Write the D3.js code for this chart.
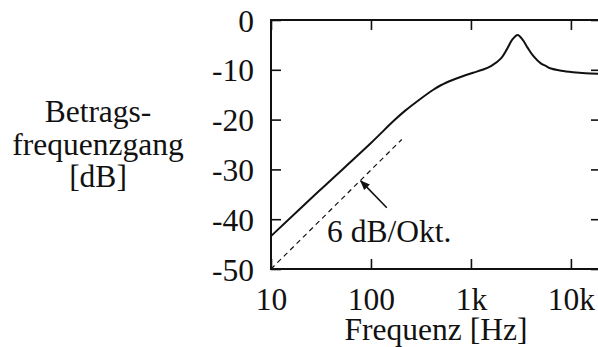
<!DOCTYPE html>
<html>
<head>
<meta charset="utf-8">
<script src="https://cdn.jsdelivr.net/npm/d3@7"></script>
<style>
  body { margin: 0; background: #fff; }
</style>
</head>
<body>
<div id="chart"></div>
<script>
// magnitude response
const freqs = [10, 30, 100, 170, 220, 300, 420, 500, 665, 800, 1050, 1300, 1600, 2000, 2300, 2600, 2930, 3300, 3700, 4200, 5000, 5700, 6200, 8000, 10500, 14000, 20000];
const gains = [-43.4, -34.4, -24.7, -20.2, -18.2, -16.1, -14.0, -13.1, -12.0, -11.4, -10.6, -10.0, -9.2, -7.7, -5.8, -3.9, -3.0, -4.0, -5.6, -7.2, -8.7, -9.3, -9.7, -10.2, -10.5, -10.7, -10.8];

// 6 dB/oct reference
const refFreqs = [10, 203];
const refGains = [-50, -24];

const xTicks = [10, 100, 1000, 10000];
const xTickLabels = ['10', '100', '1k', '10k'];
const yTicks = [0, -10, -20, -30, -40, -50];
const yLabelLines = ['Betrags-', 'frequenzgang', '[dB]'];

const width = 598, height = 347;
const margin = { top: 20, right: -3, bottom: 78, left: 271 };

const svg = d3.select('#chart')
  .append('svg')
  .attr('width', width)
  .attr('height', height);

const x = d3.scaleLog()
  .domain([10, 20000])
  .range([margin.left, width - margin.right]);

const y = d3.scaleLinear()
  .domain([-50, 0])
  .range([height - margin.bottom, margin.top]);

svg.append('defs')
  .append('marker')
  .attr('id', 'arrow')
  .attr('viewBox', '0 0 10 10')
  .attr('refX', 9)
  .attr('refY', 5)
  .attr('markerWidth', 12)
  .attr('markerHeight', 10)
  .attr('markerUnits', 'userSpaceOnUse')
  .attr('orient', 'auto')
  .append('path')
  .attr('d', 'M0,1 L10,5 L0,9 Z')
  .attr('fill', '#111');

// axes with inward ticks
const bottom = svg.append('g')
  .attr('transform', `translate(0,${y(-50)})`)
  .call(d3.axisBottom(x).tickValues(xTicks).tickSize(-10)
    .tickFormat((d, i) => xTickLabels[i]));
bottom.selectAll('text')
  .attr('y', 41).attr('dy', null);

svg.append('g')
  .attr('transform', `translate(0,${y(0)})`)
  .call(d3.axisTop(x).tickValues(xTicks).tickSize(-10).tickFormat(''));

const left = svg.append('g')
  .attr('transform', `translate(${x(10)},0)`)
  .call(d3.axisLeft(y).tickValues(yTicks).tickSize(-10)
    .tickFormat(d => d === 0 ? '0' : '-' + Math.abs(d)));
left.selectAll('text')
  .attr('x', -17).attr('dy', '0.35em');

svg.append('g')
  .attr('transform', `translate(${x(20000)},0)`)
  .call(d3.axisRight(y).tickValues(yTicks).tickSize(-10).tickFormat(''));

svg.selectAll('.domain').remove();
svg.selectAll('.tick line').attr('stroke', '#111').attr('stroke-width', 1.6);

svg.append('rect')
  .attr('x', x(10))
  .attr('y', y(0))
  .attr('width', x(20000) - x(10))
  .attr('height', y(-50) - y(0))
  .attr('fill', 'none')
  .attr('stroke', '#111')
  .attr('stroke-width', 2);

// curves
const line = d3.line()
  .x(d => x(d[0]))
  .y(d => y(d[1]))
  .curve(d3.curveCatmullRom);

svg.append('path')
  .datum(d3.zip(freqs, gains))
  .attr('d', line)
  .attr('fill', 'none')
  .attr('stroke', '#111')
  .attr('stroke-width', 2);

svg.append('path')
  .datum(d3.zip(refFreqs, refGains))
  .attr('d', line)
  .attr('fill', 'none')
  .attr('stroke', '#111')
  .attr('stroke-width', 1.2)
  .attr('stroke-dasharray', '5,4');

// annotation
svg.append('line')
  .attr('x1', x(144)).attr('y1', y(-37.7))
  .attr('x2', x(79)).attr('y2', y(-32.3))
  .attr('stroke', '#111')
  .attr('stroke-width', 1.6)
  .attr('marker-end', 'url(#arrow)');

svg.append('text')
  .attr('x', 327)
  .attr('y', 242)
  .text('6 dB/Okt.');

svg.append('text')
  .attr('x', x(Math.sqrt(10 * 20000)))
  .attr('y', 340)
  .attr('text-anchor', 'middle')
  .text('Frequenz [Hz]');

svg.append('text')
  .attr('text-anchor', 'middle')
  .selectAll('tspan')
  .data(yLabelLines)
  .enter()
  .append('tspan')
  .attr('x', 98)
  .attr('y', (d, i) => 122 + i * 32.5)
  .text(d => d);

svg.selectAll('text')
  .style('font-family', '"Liberation Serif"')
  .style('font-size', '31.5px')
  .attr('fill', '#111');
</script>
</body>
</html>
